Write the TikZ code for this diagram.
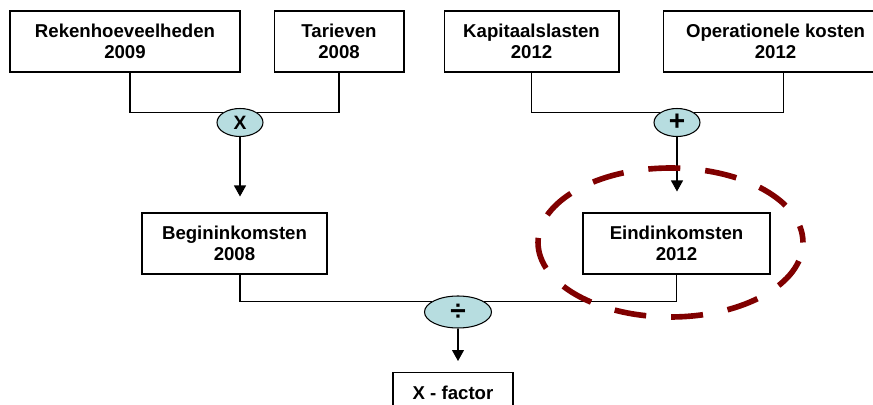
\documentclass[tikz,border=0pt]{standalone}
\usepackage{fontspec}
\setmainfont{Liberation Sans}
\usetikzlibrary{positioning,shapes.geometric,arrows.meta}
\definecolor{opfill}{RGB}{183,221,224}
\definecolor{markred}{RGB}{128,0,0}

\begin{document}
\begin{tikzpicture}[x=0.02cm, y=-0.02cm,
boxnode/.style={rectangle, draw=black, fill=white, line width=0.6pt, minimum height=1.22cm, inner sep=0pt, align=center, font=\fontsize{10.6}{12}\selectfont\bfseries},
opnode/.style={ellipse, draw=black, fill=opfill, line width=0.6pt, minimum width=0.92cm, minimum height=0.56cm, inner sep=0pt, font=\fontsize{11}{12}\selectfont\bfseries},
link/.style={line width=0.6pt},
arrowlink/.style={line width=0.6pt, -{Triangle[width=0.24cm, length=0.22cm]}},
]
\clip (0,0) rectangle (873,405);

%Nodes
\node[boxnode, minimum width=4.6cm]  (rek)  at (125,41.5)       {Rekenhoeveelheden\\2009};
\node[boxnode, minimum width=2.6cm]  (tar)  [right=0.66cm of rek] {Tarieven\\2008};
\node[boxnode, minimum width=3.5cm]  (kap)  [right=0.78cm of tar] {Kapitaalslasten\\2012};
\node[boxnode, minimum width=4.5cm]  (oper) [right=0.86cm of kap] {Operationele kosten\\2012};

\node[opnode]                        (times) at (240,122.5)     {X};
\node[opnode, font=\fontsize{16}{16}\selectfont\bfseries] (plus) at (677,122.5) {+};

\node[boxnode, minimum width=3.7cm]  (begin) at (234.5,243.5)   {Begininkomsten\\2008};
\node[boxnode, minimum width=3.74cm] (eind)  at (676.5,243.5)   {Eindinkomsten\\2012};

\node[opnode, minimum width=1.34cm, minimum height=0.64cm, font=\fontsize{16}{16}\selectfont\bfseries] (divide) at (458,312) {÷};

\node[boxnode, minimum width=2.4cm, anchor=north] (xfactor) at (453,372) {X - factor\\\mbox{}};

%Lines
\draw[link] ([xshift=0.1cm]rek.south) |- (times.150);
\draw[link] (tar.south) |- (times.30);
\draw[link] (kap.south) |- (plus.150);
\draw[link] ([xshift=0.16cm]oper.south) |- (plus.30);
\draw[link] ([xshift=0.11cm]begin.south) |- (divide.158);
\draw[link] (eind.south) |- (divide.22);

\draw[arrowlink, shorten >=0.32cm] (times.south) -- (times.south |- begin.north);
\draw[arrowlink, shorten >=0.42cm] (plus.south) -- (plus.south |- eind.north);
\draw[arrowlink, shorten >=0.22cm] (divide.south) -- (divide.south |- xfactor.north);

%Highlight
\draw[markred, line width=3.2pt, dash pattern=on 0.64cm off 0.5cm, dash phase=0.3cm]
  (670.5,242.5) ellipse [x radius=2.65cm, y radius=1.49cm];
\end{tikzpicture}
\end{document}
